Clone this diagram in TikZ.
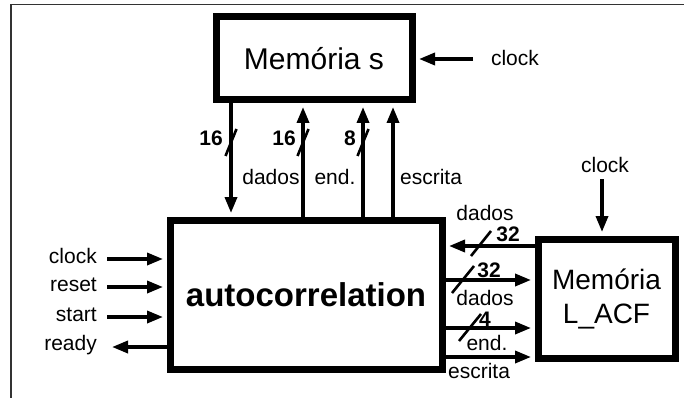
\documentclass[tikz,border=0pt]{standalone}
\usepackage{fontspec}
\setmainfont{Liberation Sans}
\usetikzlibrary{arrows.meta}
\begin{document}
\begin{tikzpicture}[x=1pt,y=-1pt,
  box/.style={draw, line width=7pt, inner sep=0pt},
  wire/.style={line width=3.5pt},
  arr/.style={wire, -{Triangle[length=16pt,width=12pt]}},
  bus/.style={line width=2.6pt},
  lbl/.style={inner sep=0pt, font=\fontsize{21}{23}\selectfont},
  num/.style={inner sep=0pt, font=\bfseries\fontsize{21}{23}\selectfont}]
\useasboundingbox (0,0) rectangle (684,398);
% frame
\draw[line width=1.5pt, black!80] (11,398) -- (11,4.5) -- (684,4.5);
% boxes
\node[box, minimum width=196pt, minimum height=83pt, font=\fontsize{30}{32}\selectfont] (mems) at (314,58.5) {Memória s};
\node[box, minimum width=272pt, minimum height=149pt, font=\bfseries\fontsize{33}{36}\selectfont] (auto) at (306,294.5) {\raisebox{-3pt}{autocorrelation}};
\node[box, minimum width=137pt, minimum height=119pt, align=center, font=\fontsize{28}{34}\selectfont] (lacf) at (606.5,298.5) {Memória\\L\_ACF};
% clock of Memoria s
\node[lbl] (clk1) at (515,58) {clock};
\coordinate (k1) at (473,59);
\draw[arr, shorten >=3.5pt] (k1) -- (mems.east |- k1);
% clock of L_ACF
\node[lbl] (clk2) at (605,165) {clock};
\coordinate (k2) at (602,179);
\draw[arr, shorten >=3.5pt] (k2) -- (lacf.north -| k2);
% top connectors
\coordinate (x1) at (231,0);
\coordinate (x2) at (303,0);
\coordinate (x3) at (363,0);
\coordinate (x4) at (393,0);
\draw[arr, shorten >=3.5pt] (mems.south -| x1) -- (auto.north -| x1);
\draw[arr, shorten >=3.5pt] (auto.north -| x2) -- (mems.south -| x2);
\draw[arr, shorten >=3.5pt] (auto.north -| x3) -- (mems.south -| x3);
\draw[arr, shorten >=3.5pt] (auto.north -| x4) -- (mems.south -| x4);
\draw[bus] (225.5,156) -- (236.5,129);
\draw[bus] (297.5,156) -- (308.5,129);
\draw[bus] (357.5,156) -- (368.5,129);
\node[num] (n1) at (211,138) {16};
\node[num] (n2) at (284,138) {16};
\node[num] (n3) at (350,138) {8};
\node[lbl] (ld1) at (271,177) {dados};
\node[lbl] (le1) at (335,177) {end.};
\node[lbl] (lw1) at (431,177) {escrita};
% left signals
\node[lbl, anchor=east] (lck) at (97,256) {clock};
\node[lbl, anchor=east] (lrs) at (97,285) {reset};
\node[lbl, anchor=east] (lst) at (97,315) {start};
\node[lbl, anchor=east] (lrd) at (97,345) {ready};
\coordinate (l1) at (107,259);
\coordinate (l2) at (107,287);
\coordinate (l3) at (107,317);
\coordinate (l4) at (112,347);
\draw[arr, shorten >=3.5pt] (l1) -- (auto.west |- l1);
\draw[arr, shorten >=3.5pt] (l2) -- (auto.west |- l2);
\draw[arr, shorten >=3.5pt] (l3) -- (auto.west |- l3);
\draw[arr] (auto.west |- l4) -- (l4);
% right connectors
\coordinate (r1) at (0,246);
\coordinate (r2) at (0,280);
\coordinate (r3) at (0,328);
\coordinate (r4) at (0,357);
\draw[arr, shorten >=3.5pt] (lacf.west |- r1) -- (auto.east |- r1);
\draw[arr, shorten >=3.5pt] (auto.east |- r2) -- (lacf.west |- r2);
\draw[arr, shorten >=3.5pt] (auto.east |- r3) -- (lacf.west |- r3);
\draw[arr, shorten >=3.5pt] (auto.east |- r4) -- (lacf.west |- r4);
\draw[bus] (471,256) -- (491,231);
\draw[bus] (452,293) -- (474,266);
\draw[bus] (459,341) -- (481,314);
\node[lbl] (rd1) at (485,213) {dados};
\node[num] (rn1) at (508,234) {32};
\node[num] (rn2) at (489,270) {32};
\node[lbl] (rd2) at (485,298) {dados};
\node[num] (rn3) at (485,319) {4};
\node[lbl] (re3) at (487,343) {end.};
\node[lbl] (rw4) at (479,371) {escrita};
\end{tikzpicture}
\end{document}
